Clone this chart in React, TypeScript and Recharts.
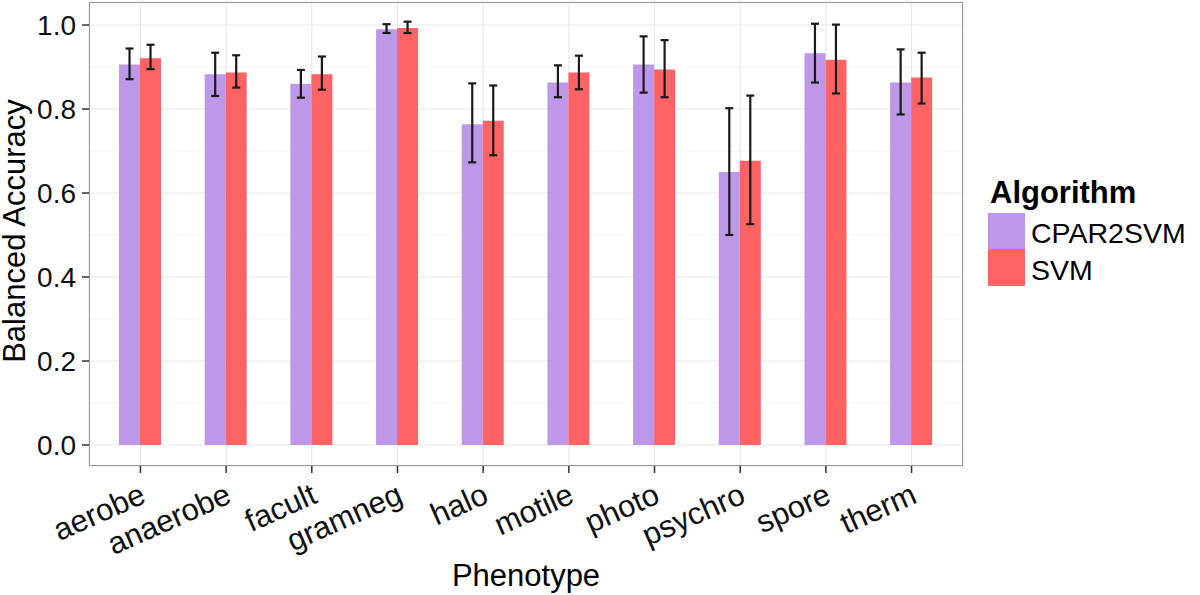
import { Bar, BarChart, CartesianGrid, ErrorBar, XAxis, YAxis } from "recharts";

document.body.style.margin = "0";

const FONT = "'Liberation Sans', Arial, Helvetica, sans-serif";

const PHENOTYPES = ["aerobe", "anaerobe", "facult", "gramneg", "halo", "motile", "photo", "psychro", "spore", "therm"];

const CPAR = [0.906, 0.883, 0.86, 0.99, 0.764, 0.863, 0.906, 0.65, 0.933, 0.863];
const CPAR_LO = [0.871, 0.831, 0.827, 0.981, 0.673, 0.828, 0.839, 0.5, 0.863, 0.787];
const CPAR_HI = [0.944, 0.934, 0.893, 1.002, 0.861, 0.904, 0.973, 0.802, 1.003, 0.942];

const SVM = [0.921, 0.887, 0.883, 0.993, 0.772, 0.887, 0.894, 0.677, 0.917, 0.875];
const SVM_LO = [0.895, 0.851, 0.846, 0.981, 0.69, 0.847, 0.828, 0.526, 0.837, 0.813];
const SVM_HI = [0.953, 0.928, 0.925, 1.008, 0.856, 0.927, 0.964, 0.832, 1.001, 0.934];

const Y_TICKS = [0, 0.2, 0.4, 0.6, 0.8, 1.0];
const Y_MINOR = [0.1, 0.3, 0.5, 0.7, 0.9];

const PURPLE = "#bf97e8";
const RED = "#ff6363";

const data = PHENOTYPES.map((name, i) => ({
  name,
  cpar: CPAR[i],
  cparErr: [CPAR[i] - CPAR_LO[i], CPAR_HI[i] - CPAR[i]],
  svm: SVM[i],
  svmErr: [SVM[i] - SVM_LO[i], SVM_HI[i] - SVM[i]],
}));

function XTick({ x, y, payload }: any) {
  const tx = x + 7;
  const ty = y + 27;
  return (
    <text
      x={tx}
      y={ty}
      transform={`rotate(-24 ${tx} ${ty})`}
      textAnchor="end"
      fontSize={31}
      fontFamily={FONT}
      fill="#111"
    >
      {payload.value}
    </text>
  );
}

function LegendBox() {
  return (
    <svg width={215} height={130} style={{ display: "block" }}>
      <text x={5} y={38} fontSize={31} fontWeight="bold" fontFamily={FONT} fill="#000">
        Algorithm
      </text>
      <rect x={3} y={48} width={37} height={36} fill={PURPLE} />
      <rect x={3} y={84} width={37} height={37} fill={RED} />
      <text x={46} y={78} fontSize={28.5} fontFamily={FONT} fill="#000">
        CPAR2SVM
      </text>
      <text x={46} y={115} fontSize={28.5} fontFamily={FONT} fill="#000">
        SVM
      </text>
    </svg>
  );
}

export default function App() {
  return (
    <div style={{ position: "relative", width: 1200, height: 595, background: "#fff" }}>
      <BarChart
        width={1200}
        height={595}
        data={data}
        margin={{ top: 2, right: 237, bottom: 0, left: 0 }}
        barCategoryGap="25%"
        barGap={0}
      >
        <CartesianGrid
          horizontalValues={Y_MINOR}
          vertical={false}
          stroke="#f4f4f4"
          strokeWidth={1}
        />
        <CartesianGrid stroke="#e8e8e8" strokeWidth={1.2} />
        <XAxis
          dataKey="name"
          height={129}
          padding={{ left: 8.6, right: 8.6 }}
          axisLine={false}
          tickSize={7}
          tickLine={{ stroke: "#333", strokeWidth: 1.5 }}
          tick={<XTick />}
          interval={0}
          label={{
            content: () => (
              <text x={526} y={586} textAnchor="middle" fontSize={31} fontFamily={FONT} fill="#000">
                Phenotype
              </text>
            ),
          }}
        />
        <YAxis
          width={89}
          domain={[-0.05, 1.0548]}
          ticks={Y_TICKS}
          allowDataOverflow
          axisLine={false}
          tickSize={7}
          tickMargin={6}
          tickLine={{ stroke: "#333", strokeWidth: 1.5 }}
          tickFormatter={(v: number) => v.toFixed(1)}
          tick={{ fontSize: 28, fill: "#111", fontFamily: FONT }}
          label={{
            content: () => (
              <text
                x={25}
                y={231}
                transform="rotate(-90 25 231)"
                textAnchor="middle"
                fontSize={31}
                fontFamily={FONT}
                fill="#000"
              >
                Balanced Accuracy
              </text>
            ),
          }}
        />
        <Bar dataKey="cpar" fill={PURPLE} isAnimationActive={false}>
          <ErrorBar dataKey="cparErr" width={4} stroke="#1a1a1a" strokeWidth={2.2} />
        </Bar>
        <Bar dataKey="svm" fill={RED} isAnimationActive={false}>
          <ErrorBar dataKey="svmErr" width={4} stroke="#1a1a1a" strokeWidth={2.2} />
        </Bar>
      </BarChart>
      <div
        style={{
          position: "absolute",
          left: 89,
          top: 2,
          width: 874,
          height: 464,
          border: "1.5px solid #9a9a9a",
          boxSizing: "border-box",
          pointerEvents: "none",
        }}
      />
      <div style={{ position: "absolute", left: 985, top: 165 }}>
        <LegendBox />
      </div>
    </div>
  );
}
